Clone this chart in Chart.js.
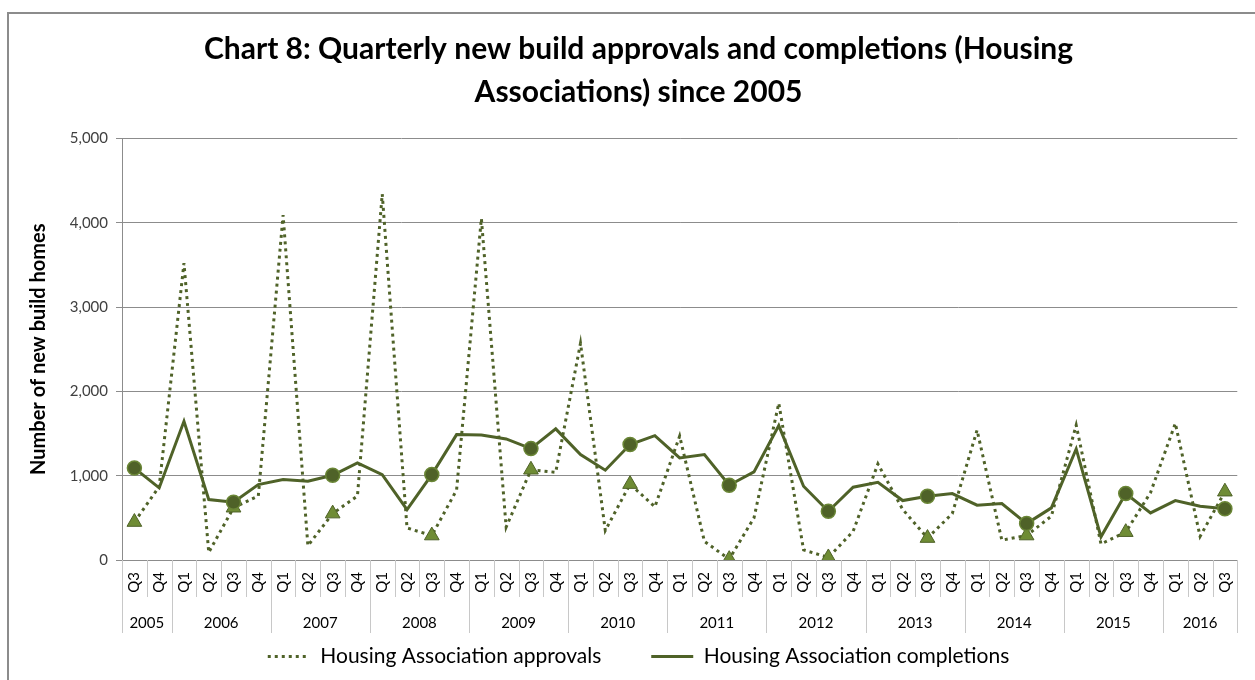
<!DOCTYPE html>
<html>
<head>
<meta charset="utf-8">
<script src="https://cdn.jsdelivr.net/npm/chart.js@4/dist/chart.umd.min.js"></script>
<style>
  body { margin: 0; background: #fff; overflow: hidden; }
  #frame { position: absolute; left: 7px; top: 12px; width: 1400px; height: 800px;
           border-left: 2px solid #8c8c8c; border-top: 2px solid #8c8c8c; }
  #chart { position: absolute; left: 0; top: 0; }
</style>
</head>
<body>
<div id="frame"></div>
<canvas id="chart" width="1255" height="680"></canvas>
<script>
// quarters from 2005 Q3 to 2016 Q3
const quarters = ['Q3','Q4',
  'Q1','Q2','Q3','Q4', 'Q1','Q2','Q3','Q4', 'Q1','Q2','Q3','Q4', 'Q1','Q2','Q3','Q4',
  'Q1','Q2','Q3','Q4', 'Q1','Q2','Q3','Q4', 'Q1','Q2','Q3','Q4', 'Q1','Q2','Q3','Q4',
  'Q1','Q2','Q3','Q4', 'Q1','Q2','Q3','Q4', 'Q1','Q2','Q3'];
const years = ['2005','2005',
  '2006','2006','2006','2006', '2007','2007','2007','2007', '2008','2008','2008','2008',
  '2009','2009','2009','2009', '2010','2010','2010','2010', '2011','2011','2011','2011',
  '2012','2012','2012','2012', '2013','2013','2013','2013', '2014','2014','2014','2014',
  '2015','2015','2015','2015', '2016','2016','2016'];

const approvals = [450, 870, 3520, 90, 620, 760, 4090, 170, 550, 760, 4340, 380, 290, 830,
  4050, 390, 1070, 1040, 2570, 350, 900, 630, 1470, 220, 10, 500, 1860, 120, 30, 340,
  1140, 600, 260, 550, 1540, 235, 290, 520, 1600, 190, 330, 800, 1620, 280, 810];
const completions = [1090, 855, 1645, 717, 685, 895, 954, 934, 1005, 1152, 1013, 598, 1013,
  1487, 1483, 1436, 1321, 1555, 1250, 1065, 1369, 1475, 1211, 1250, 887, 1045, 1594, 875,
  578, 863, 922, 705, 756, 788, 650, 669, 432, 618, 1317, 275, 788, 559, 705, 638, 607];

const olive = '#4F6228';
const FONT = 'Lato, "Open Sans", sans-serif';

// markers only on the Q3 points, like the original
const circleSize = quarters.map(q => q === 'Q3' ? 7 : 0);
const triangleSize = quarters.map(q => q === 'Q3' ? 8.5 : 0);

// draws the quarter separators and the year row under the x axis
const yearRow = {
  id: 'yearRow',
  afterDraw(chart) {
    const x = chart.scales.x;
    const ctx = chart.ctx;
    const n = quarters.length;
    const w = x.width / n;
    const top = x.top;
    ctx.save();
    ctx.strokeStyle = '#c8c8c8';
    ctx.lineWidth = 1;
    for (let i = 0; i <= n; i++) {
      const bx = Math.round(x.getPixelForValue(Math.min(i, n - 1)) + (i === n ? w / 2 : -w / 2)) + 0.5;
      const yearEdge = i === 0 || i === n || years[i] !== years[i - 1];
      ctx.beginPath();
      ctx.moveTo(bx, top);
      ctx.lineTo(bx, yearEdge ? top + 73 : top + 37);
      ctx.stroke();
    }
    ctx.fillStyle = '#000';
    ctx.font = '15px ' + FONT;
    ctx.textAlign = 'center';
    ctx.textBaseline = 'middle';
    let start = 0;
    for (let i = 1; i <= n; i++) {
      if (i === n || years[i] !== years[start]) {
        const cx = (x.getPixelForValue(start) + x.getPixelForValue(i - 1)) / 2;
        ctx.fillText(years[start], cx, top + 63);
        start = i;
      }
    }
    ctx.restore();
  }
};

new Chart(document.getElementById('chart'), {
  type: 'line',
  data: {
    labels: quarters,
    datasets: [{
      label: 'Housing Association approvals',
      data: approvals,
      order: 1,
      borderColor: olive,
      borderWidth: 3,
      borderDash: [3, 4],
      pointStyle: 'triangle',
      pointRadius: triangleSize,
      pointBackgroundColor: '#6F8C35',
      pointBorderColor: '#4F6228',
      pointBorderWidth: 1,
      tension: 0,
      fill: false
    }, {
      label: 'Housing Association completions',
      data: completions,
      order: 0,
      borderColor: olive,
      borderWidth: 3,
      pointStyle: 'circle',
      pointRadius: circleSize,
      pointBackgroundColor: olive,
      pointBorderColor: '#6A8636',
      pointBorderWidth: 1.5,
      tension: 0,
      fill: false
    }]
  },
  options: {
    responsive: false,
    animation: false,
    layout: { padding: { left: 22, right: 0, top: 0, bottom: 3 } },
    plugins: {
      title: {
        display: true,
        text: ['Chart 8: Quarterly new build approvals and completions (Housing', 'Associations) since 2005'],
        color: '#000',
        font: { family: FONT, size: 30, weight: 'bold', lineHeight: 1.44 },
        padding: { top: 28, bottom: 24 }
      },
      legend: {
        position: 'bottom',
        labels: {
          usePointStyle: true,
          pointStyleWidth: 42,
          color: '#000',
          font: { family: FONT, size: 21 },
          padding: 50,
          sort: (a, b) => a.datasetIndex - b.datasetIndex,
          generateLabels(chart) {
            const items = Chart.defaults.plugins.legend.labels.generateLabels(chart);
            items.forEach(it => {
              const ds = chart.data.datasets[it.datasetIndex];
              it.pointStyle = 'line';
              it.lineWidth = ds.borderWidth;
              it.lineDash = ds.borderDash || [];
              it.strokeStyle = ds.borderColor;
            });
            return items;
          }
        }
      },
      tooltip: { enabled: false }
    },
    scales: {
      x: {
        offset: true,
        grid: { drawOnChartArea: false, drawTicks: false },
        border: { color: '#8c8c8c' },
        ticks: {
          autoSkip: false, minRotation: 90, maxRotation: 90, padding: 12,
          color: '#000', font: { family: FONT, size: 15 }
        },
        afterFit(scale) { scale.height = 36; }
      },
      y: {
        min: 0,
        max: 5000,
        ticks: {
          stepSize: 1000, padding: 8, color: '#404040',
          font: { family: FONT, size: 15 },
          callback: v => v.toLocaleString('en-US')
        },
        grid: { color: '#8c8c8c', tickLength: 6 },
        border: { color: '#8c8c8c' },
        title: {
          display: true,
          text: 'Number of new build homes',
          color: '#000',
          font: { family: FONT, size: 20, weight: 'bold' },
          padding: { top: 5, bottom: 0 }
        },
        afterFit(scale) { scale.width = 100; }
      }
    }
  },
  plugins: [yearRow]
});
</script>
</body>
</html>
